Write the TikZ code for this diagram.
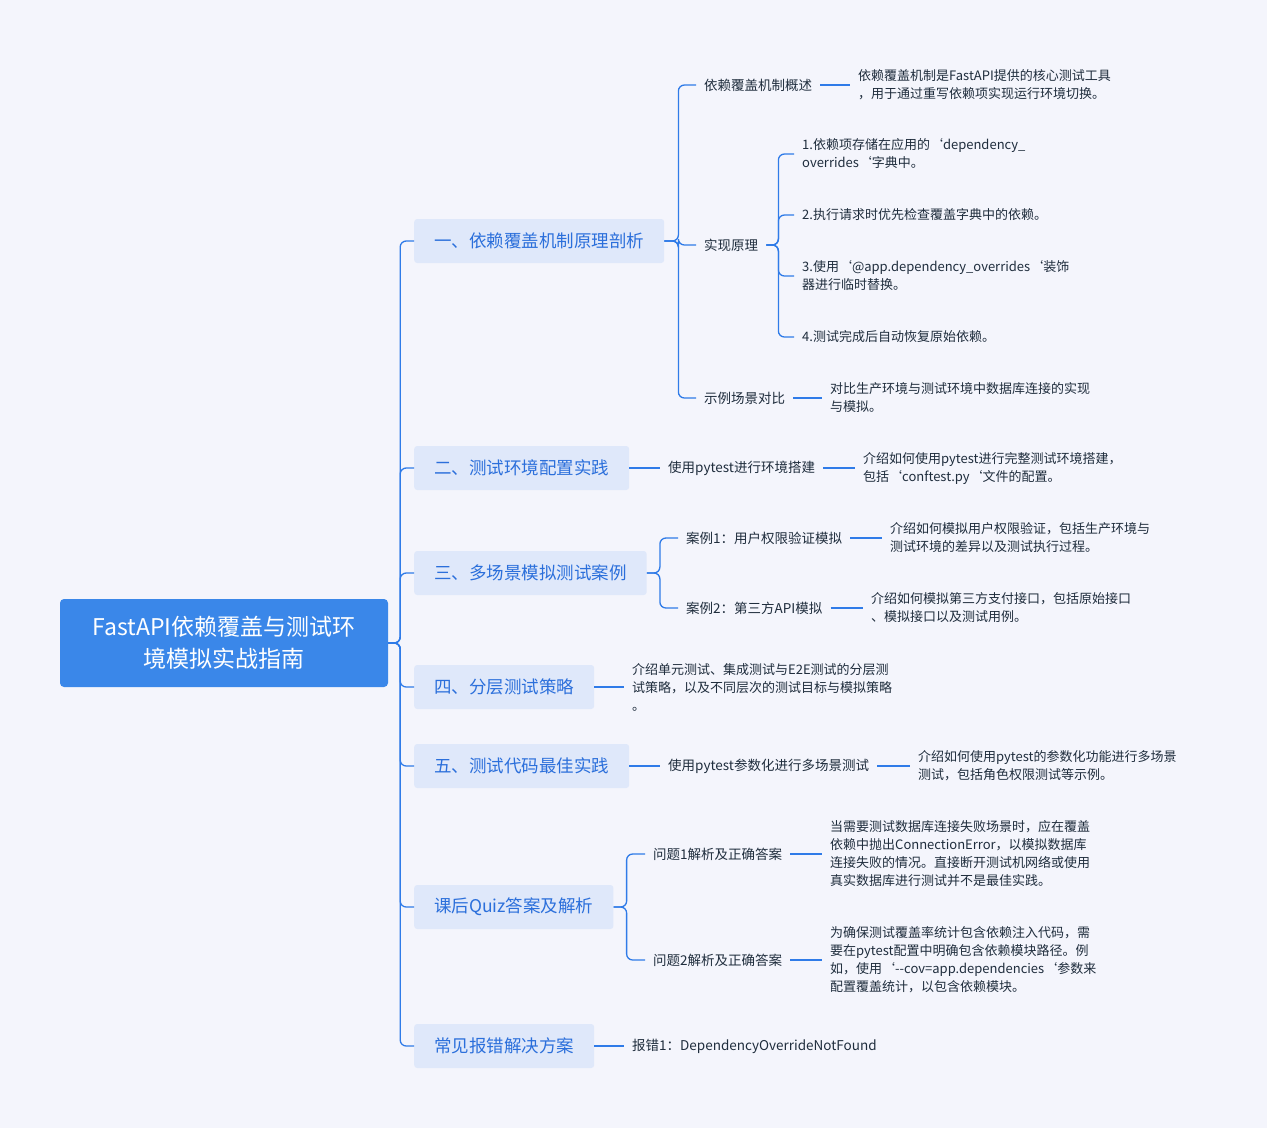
\documentclass[tikz,border=0pt]{standalone}
\usepackage{fontspec}
\setmainfont{Noto Sans CJK SC}
\definecolor{bgc}{HTML}{F4F5FC}
\definecolor{linec}{HTML}{2F7BE8}
\definecolor{rootc}{HTML}{3A87E9}
\definecolor{boxc}{HTML}{DFE8FA}
\definecolor{topc}{HTML}{2B6FDB}
\definecolor{txtc}{HTML}{1F2D3D}
\tikzset{
  root/.style={draw=none,fill=rootc,rounded corners=4pt,minimum width=328pt,minimum height=88pt,
    text width=300pt,align=center,text=white,font=\fontsize{23}{32}\selectfont},
  branch/.style={fill=boxc,rounded corners=3pt,minimum height=44pt,inner xsep=20pt,anchor=west,
    text=topc,font=\fontsize{17.5}{22}\selectfont},
  topic/.style={anchor=west,inner xsep=8pt,text=txtc,font=\fontsize{13.5}{18}\selectfont},
  leaf/.style={anchor=west,inner xsep=8pt,align=left,text=txtc,font=\fontsize{13}{18}\selectfont},
  link/.style={linec,line width=1.3pt,rounded corners=6pt}
}
\begin{document}
\begin{tikzpicture}[x=1pt,y=-1pt]
  \fill[bgc] (0,0) rectangle (1267,1128);
  \useasboundingbox (0,0) rectangle (1267,1128);
  % root and first level
  \node[root] (root) at (224,643) {FastAPI依赖覆盖与测试环\\境模拟实战指南};
  \node[branch] (b1) at (414,241) {一、依赖覆盖机制原理剖析};
  \node[branch] (b2) at (414,468) {二、测试环境配置实践};
  \node[branch] (b3) at (414,573) {三、多场景模拟测试案例};
  \node[branch] (b4) at (414,687) {四、分层测试策略};
  \node[branch] (b5) at (414,766) {五、测试代码最佳实践};
  \node[branch] (b6) at (414,907) {课后Quiz答案及解析};
  \node[branch] (b7) at (414,1046) {常见报错解决方案};
  \foreach \b in {b1,b2,b3,b4,b5,b6,b7}
    \draw[link] (root.east) -- ++(12,0) |- (\b.west);
  % branch 1
  \node[topic] (t11) at (696,85) {依赖覆盖机制概述};
  \node[topic] (t12) at (696,245) {实现原理};
  \node[topic] (t13) at (696,398) {示例场景对比};
  \foreach \t in {t11,t12,t13}
    \draw[link] (b1.east) -- ++(14,0) |- (\t.west);
  \node[leaf] (l11) at (850,85) {依赖覆盖机制是FastAPI提供的核心测试工具\\，用于通过重写依赖项实现运行环境切换。};
  \draw[link] (t11.east) -- (l11.west);
  \node[leaf] (l121) at (794,154) {1.依赖项存储在应用的`dependency\_\\overrides`字典中。};
  \node[leaf] (l122) at (794,215) {2.执行请求时优先检查覆盖字典中的依赖。};
  \node[leaf] (l123) at (794,276) {3.使用`@app.dependency\_overrides`装饰\\器进行临时替换。};
  \node[leaf] (l124) at (794,337) {4.测试完成后自动恢复原始依赖。};
  \foreach \l in {l121,l122,l123,l124}
    \draw[link] (t12.east) -- ++(12,0) |- (\l.west);
  \node[leaf] (l13) at (822,398) {对比生产环境与测试环境中数据库连接的实现\\与模拟。};
  \draw[link] (t13.east) -- (l13.west);
  % branch 2
  \node[topic] (t21) at (660,468) {使用pytest进行环境搭建};
  \node[leaf] (l21) at (855,468) {介绍如何使用pytest进行完整测试环境搭建，\\包括`conftest.py`文件的配置。};
  \draw[link] (b2.east) -- (t21.west);
  \draw[link] (t21.east) -- (l21.west);
  % branch 3
  \node[topic] (t31) at (678,538) {案例1：用户权限验证模拟};
  \node[topic] (t32) at (678,608) {案例2：第三方API模拟};
  \foreach \t in {t31,t32}
    \draw[link] (b3.east) -- ++(13,0) |- (\t.west);
  \node[leaf] (l31) at (882,538) {介绍如何模拟用户权限验证，包括生产环境与\\测试环境的差异以及测试执行过程。};
  \node[leaf] (l32) at (863,608) {介绍如何模拟第三方支付接口，包括原始接口\\、模拟接口以及测试用例。};
  \draw[link] (t31.east) -- (l31.west);
  \draw[link] (t32.east) -- (l32.west);
  % branch 4
  \node[leaf] (l41) at (624,687) {介绍单元测试、集成测试与E2E测试的分层测\\试策略，以及不同层次的测试目标与模拟策略\\。};
  \draw[link] (b4.east) -- (l41.west);
  % branch 5
  \node[topic] (t51) at (660,766) {使用pytest参数化进行多场景测试};
  \node[leaf] (l51) at (910,766) {介绍如何使用pytest的参数化功能进行多场景\\测试，包括角色权限测试等示例。};
  \draw[link] (b5.east) -- (t51.west);
  \draw[link] (t51.east) -- (l51.west);
  % branch 6
  \node[topic] (t61) at (645,854) {问题1解析及正确答案};
  \node[topic] (t62) at (645,960) {问题2解析及正确答案};
  \foreach \t in {t61,t62}
    \draw[link] (b6.east) -- ++(13,0) |- (\t.west);
  \node[leaf] (l61) at (822,854) {当需要测试数据库连接失败场景时，应在覆盖\\依赖中抛出ConnectionError，以模拟数据库\\连接失败的情况。直接断开测试机网络或使用\\真实数据库进行测试并不是最佳实践。};
  \node[leaf] (l62) at (822,960) {为确保测试覆盖率统计包含依赖注入代码，需\\要在pytest配置中明确包含依赖模块路径。例\\如，使用`-{}-cov=app.dependencies`参数来\\配置覆盖统计，以包含依赖模块。};
  \draw[link] (t61.east) -- (l61.west);
  \draw[link] (t62.east) -- (l62.west);
  % branch 7
  \node[topic] (t71) at (624,1046) {报错1：DependencyOverrideNotFound};
  \draw[link] (b7.east) -- (t71.west);
\end{tikzpicture}
\end{document}
